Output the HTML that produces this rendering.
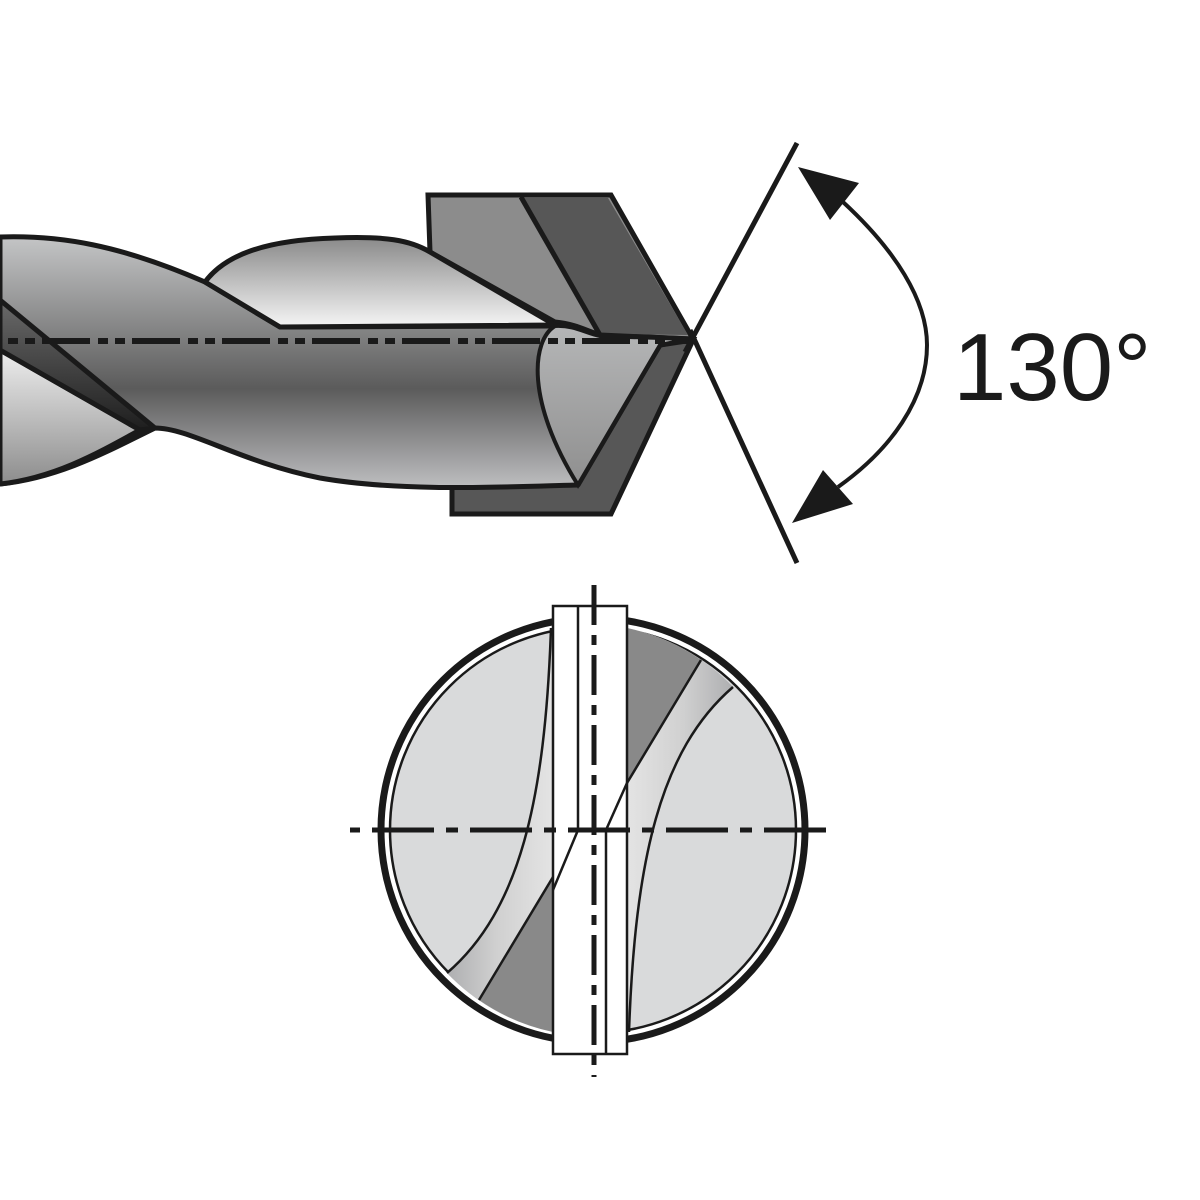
<!DOCTYPE html>
<html><head><meta charset="utf-8"><style>html,body{margin:0;padding:0;background:#fff}svg{display:block}</style></head>
<body>
<svg width="1200" height="1200" viewBox="0 0 1200 1200" xmlns="http://www.w3.org/2000/svg">
<defs>
<linearGradient id="body" x1="0" y1="237" x2="0" y2="490" gradientUnits="userSpaceOnUse">
<stop offset="0" stop-color="#c4c5c6"/><stop offset="0.6" stop-color="#5b5b5b"/><stop offset="1" stop-color="#c0c1c3"/></linearGradient>
<linearGradient id="lobe" x1="0" y1="238" x2="0" y2="325" gradientUnits="userSpaceOnUse">
<stop offset="0" stop-color="#8a8a8a"/><stop offset="1" stop-color="#f3f3f3"/></linearGradient>
<linearGradient id="llobe" x1="0" y1="350" x2="0" y2="485" gradientUnits="userSpaceOnUse">
<stop offset="0" stop-color="#eeeeee"/><stop offset="1" stop-color="#8c8c8c"/></linearGradient>
<linearGradient id="band" x1="0" y1="300" x2="0" y2="430" gradientUnits="userSpaceOnUse">
<stop offset="0" stop-color="#6a6a6a"/><stop offset="1" stop-color="#1e1e1e"/></linearGradient>
<linearGradient id="lip" x1="0" y1="330" x2="0" y2="485" gradientUnits="userSpaceOnUse">
<stop offset="0" stop-color="#b4b5b6"/><stop offset="1" stop-color="#8f8f8f"/></linearGradient>
<linearGradient id="cb" x1="627" y1="0" x2="740" y2="0" gradientUnits="userSpaceOnUse">
<stop offset="0" stop-color="#e4e4e4"/><stop offset="0.5" stop-color="#d0d0d0"/><stop offset="1" stop-color="#a9aaac"/></linearGradient>
</defs>

<path d="M428,195 L611,195 L693,339 L600,335 C585,330 575,324 555,322 L430,252 Z" fill="#8c8c8c" stroke="#1a1a1a" stroke-width="5"/>
<path d="M522,198 L608,198 L688,335 L600,334 Z" fill="#575757"/>
<line x1="521" y1="197" x2="600" y2="335" stroke="#1a1a1a" stroke-width="5"/>
<path d="M452,484 L578,484 L660,345 L693,340 L611,514 L452,514 Z" fill="#575757" stroke="#1a1a1a" stroke-width="5"/>

<path d="M0,237 C60,235 120,245 205,282 L280,327 L552,326 C575,325 585,333 600,335 L690,339 L660,345 L578,485 C500,487 400,492 320,478 C240,462 190,428 155,428 C110,450 60,478 0,484 Z" fill="url(#body)" stroke="#1a1a1a" stroke-width="5" stroke-linejoin="round"/>
<path d="M0,350 L140,430 C100,452 55,478 0,484 Z" fill="url(#llobe)" stroke="#1a1a1a" stroke-width="5"/>
<path d="M0,300 L155,428 L140,430 L0,350 Z" fill="url(#band)" stroke="#1a1a1a" stroke-width="5" stroke-linejoin="round"/>
<path d="M205,282 C225,255 265,240 335,238 C385,236 410,240 430,252 L555,325 L280,327 Z" fill="url(#lobe)" stroke="#1a1a1a" stroke-width="5" stroke-linejoin="round"/>
<path d="M555,326 C532,340 525,400 578,485 L660,345 L690,339 L600,336 C585,333 575,325 555,326 Z" fill="url(#lip)" stroke="#1a1a1a" stroke-width="4"/>
<line x1="0" y1="341" x2="690" y2="341" stroke="#1a1a1a" stroke-width="6" stroke-dasharray="48 8 10 7 10 7" stroke-dashoffset="48"/>

<line x1="797" y1="143" x2="685" y2="352" stroke="#1a1a1a" stroke-width="5"/>
<line x1="690" y1="330" x2="797" y2="563" stroke="#1a1a1a" stroke-width="5"/>
<path d="M843,202 C895,250 927,300 927,345 C927,400 890,450 838,487" fill="none" stroke="#1a1a1a" stroke-width="4"/>
<polygon points="798,167 859,183 830,220" fill="#1a1a1a"/>
<polygon points="792,523 823,470 853,504" fill="#1a1a1a"/>
<text x="953" y="400" font-family="Liberation Sans, sans-serif" font-size="96" fill="#1a1a1a">130°</text>

<circle cx="593" cy="830" r="212" fill="#fff" stroke="#1a1a1a" stroke-width="7"/>
<circle cx="593" cy="830" r="203" fill="#d9dadb" stroke="#1a1a1a" stroke-width="2.5"/>
<g id="half">
<path d="M627,628 A203,203 0 0 1 733,687 C660,750 635,860 629,1032 L627,1032 Z" fill="url(#cb)"/>
<path d="M627,628 A203,203 0 0 1 701,660 L627,783 Z" fill="#898989"/>
<path d="M701,660 L627,783" stroke="#1a1a1a" stroke-width="2.5" fill="none"/>
<path d="M733,687 C660,750 635,860 629,1032" stroke="#1a1a1a" stroke-width="2.5" fill="none"/>
</g>
<use href="#half" transform="rotate(180 590 830)"/>
<rect x="553" y="606" width="74" height="448" fill="#fff" stroke="#1a1a1a" stroke-width="2.5"/>
<line x1="578" y1="606" x2="578" y2="830" stroke="#1a1a1a" stroke-width="2.5"/>
<line x1="606" y1="830" x2="606" y2="1054" stroke="#1a1a1a" stroke-width="2.5"/>
<path d="M627,783 L606,830" stroke="#1a1a1a" stroke-width="2.5"/>
<path d="M578,830 L553,890" stroke="#1a1a1a" stroke-width="2.5"/>
<line x1="350" y1="830" x2="833" y2="830" stroke="#1a1a1a" stroke-width="5" stroke-dasharray="62 12 12 12" stroke-dashoffset="-22"/>
<line x1="594" y1="585" x2="594" y2="1077" stroke="#1a1a1a" stroke-width="5" stroke-dasharray="40 10 10 10"/>
</svg>
</body></html>
